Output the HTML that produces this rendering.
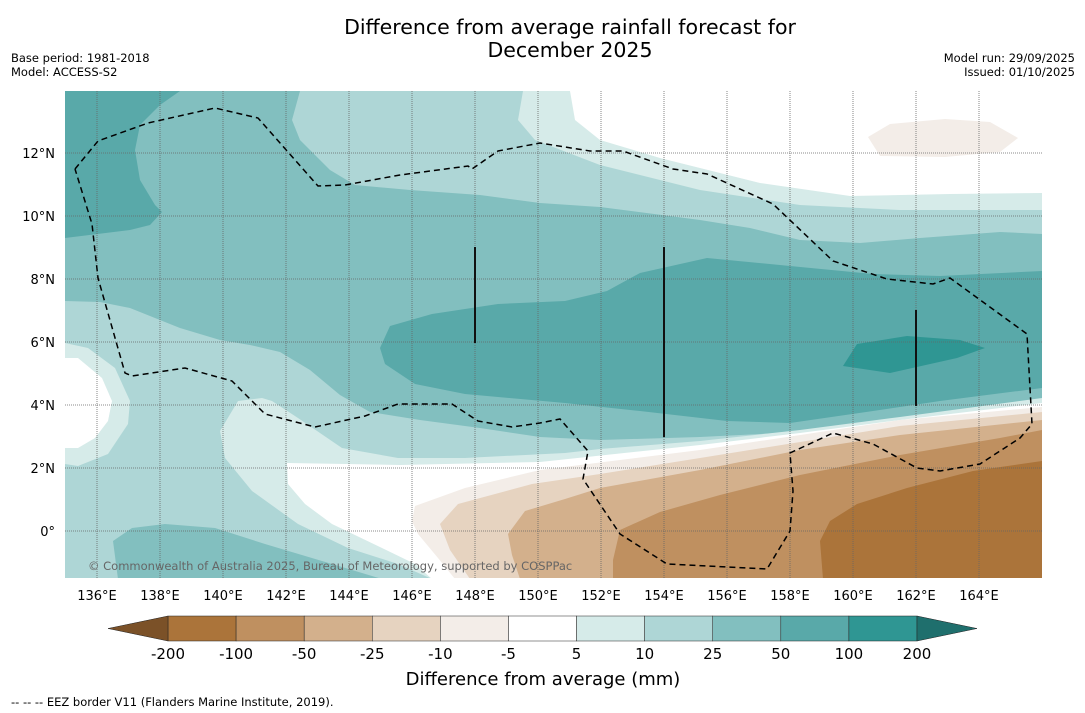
<!DOCTYPE html>
<html><head><meta charset="utf-8"><style>
body{margin:0;background:#fff;width:1085px;height:713px;overflow:hidden;font-family:"Liberation Sans","DejaVu Sans",sans-serif}
svg{display:block}
</style></head><body>
<svg id="s" width="1085" height="713" xmlns="http://www.w3.org/2000/svg" font-family="DejaVu Sans, Liberation Sans, sans-serif">
<text x="570" y="34" font-size="20.5" text-anchor="middle">Difference from average rainfall forecast for</text>
<text x="570" y="57" font-size="20.5" text-anchor="middle">December 2025</text>
<text x="11" y="62" font-size="11.5">Base period: 1981-2018</text>
<text x="11" y="76" font-size="11.5">Model: ACCESS-S2</text>
<text x="1075" y="62" font-size="11.5" text-anchor="end">Model run: 29/09/2025</text>
<text x="1075" y="76" font-size="11.5" text-anchor="end">Issued: 01/10/2025</text>
<defs><clipPath id="mc"><rect x="65" y="91" width="977" height="487"/></clipPath></defs>
<g clip-path="url(#mc)">
<rect x="65" y="91" width="977" height="487" fill="#aed6d6"/>
<path fill="#d6ebe9" d="M523,91 L518,120 L535,140 L600,165 L700,190 L800,205 L900,210 L1042,210 L1042,91 Z"/>
<path fill="#ffffff" d="M570,91 L575,120 L600,140 L660,158 L760,183 L850,196 L950,194 L1042,193 L1042,91 Z"/>
<path fill="#f3ede8" d="M868,137 L890,124 L945,119 L990,122 L1018,138 L1000,152 L945,157 L880,156 Z"/>
<path fill="#82bfbf" d="M65,91 L300,91 L292,120 L300,140 L330,170 L355,185 L410,190 L480,195 L540,203 L600,207 L700,220 L750,228 L800,240 L860,243 L920,238 L1000,232 L1042,234 L1042,410 L1000,415 L900,425 L800,432 L700,437 L600,440 L540,437 L480,428 L420,420 L370,412 L340,395 L310,370 L280,352 L250,345 L220,340 L180,328 L130,308 L100,302 L65,301 Z"/>
<path fill="#59a9a9" d="M65,91 L180,91 L160,105 L140,125 L135,150 L140,180 L155,205 L162,212 L150,225 L130,230 L65,238 Z"/>
<path fill="#59a9a9" d="M380,348 L390,326 L432,314 L498,304 L565,301 L607,291 L640,273 L707,258 L790,266 L873,274 L940,276 L1042,271 L1042,388 L940,401 L873,411 L790,423 L727,421 L640,411 L565,403 L465,394 L415,384 L385,364 Z"/>
<path fill="#2f9693" d="M843,366 L857,344 L907,336 L960,340 L985,348 L957,358 L890,373 Z"/>
<path fill="#d6ebe9" d="M65,343 L88,348 L115,368 L130,401 L128,424 L108,454 L78,466 L65,464 Z"/>
<path fill="#ffffff" d="M65,358 L78,358 L102,378 L112,401 L108,421 L95,438 L78,448 L65,448 Z"/>
<path fill="#82bfbf" d="M113,541 L132,528 L165,524 L215,528 L265,544 L332,564 L382,579 L118,579 Z"/>
<path fill="#d6ebe9" d="M262,398 L238,401 L220,431 L225,458 L252,491 L298,524 L348,548 L398,564 L432,579 L1042,579 L1042,398 L900,417 L800,430 L700,441 L600,449 L565,453 L465,458 L398,458 L342,448 L298,418 L272,401 Z"/>
<path fill="#ffffff" d="M287,463 L288,484 L305,504 L332,524 L382,548 L415,564 L432,579 L1042,579 L1042,403 L900,420 L800,433 L700,445 L540,462 L400,465 Z"/>
<path fill="#f3ede8" d="M412,521 L415,506 L465,488 L540,470 L700,450 L900,420 L1042,407 L1042,579 L455,579 L438,558 L418,534 Z"/>
<path fill="#e6d3c0" d="M440,524 L458,504 L532,484 L600,474 L700,458 L900,426 L1042,412 L1042,579 L470,579 L450,550 Z"/>
<path fill="#d3b08c" d="M508,534 L525,511 L565,499 L600,488 L700,470 L800,450 L900,435 L1042,420 L1042,579 L520,579 L512,555 Z"/>
<path fill="#bf9060" d="M613,560 L620,530 L660,512 L720,495 L800,475 L900,455 L1000,438 L1042,430 L1042,579 L613,579 Z"/>
<path fill="#ab743a" d="M823,579 L820,541 L830,521 L857,504 L907,488 L973,471 L1042,461 L1042,579 Z"/>
<g id="grid"></g>
<path fill="none" stroke="#000" stroke-width="1.5" stroke-dasharray="6,4" d="M75,169 L98,141 L148,123 L215,108 L258,118 L318,186 L345,185 L400,175 L468,166 L472,169 L498,151 L540,143 L590,151 L623,151 L673,169 L707,174 L773,204 L833,261 L887,279 L933,284 L950,278 L1027,334 L1032,424 L1020,438 L980,464 L940,471 L917,468 L873,444 L833,433 L790,453 L793,491 L790,531 L767,569 L667,564 L620,534 L583,479 L588,451 L560,419 L540,423 L512,427 L478,421 L452,404 L398,404 L365,416 L315,427 L265,414 L232,381 L185,368 L132,376 L125,373 L98,278 L92,224 L75,169"/>
<line x1="475" y1="247" x2="475" y2="343" stroke="#111" stroke-width="2"/>
<line x1="664" y1="247" x2="664" y2="437" stroke="#111" stroke-width="2"/>
<line x1="916" y1="310" x2="916" y2="406" stroke="#111" stroke-width="2"/>
<text x="88" y="570" font-size="11.5" fill="#666">© Commonwealth of Australia 2025, Bureau of Meteorology, supported by COSPPac</text>
</g>
<g id="ticks"></g>
<g id="cbar"></g>
<text x="543" y="685" font-size="18" text-anchor="middle">Difference from average (mm)</text>
<text x="11" y="706" font-size="11.5">--  --  -- EEZ border V11 (Flanders Marine Institute, 2019).</text>
</svg>
<script>
const lonTicks=[136,138,140,142,144,146,148,150,152,154,156,158,160,162,164];
const latTicks=[0,2,4,6,8,10,12];
const levels=[-200,-100,-50,-25,-10,-5,5,10,25,50,100,200];
const colors=['#ab743a','#bf9060','#d3b08c','#e6d3c0','#f3ede8','#ffffff','#d6ebe9','#aed6d6','#82bfbf','#59a9a9','#2f9693'];
const extColors=['#7b5128','#1f6f6d'];
const NS='http://www.w3.org/2000/svg';
const xLon=l=>65.5+(l-135)*31.5, yLat=l=>531-l*31.5;
function mk(t,a,p){const e=document.createElementNS(NS,t);for(const k in a)e.setAttribute(k,a[k]);p.appendChild(e);return e;}
const grid=document.getElementById('grid'),ticks=document.getElementById('ticks'),cb=document.getElementById('cbar');
lonTicks.forEach(l=>{const x=xLon(l);
 const g=mk('line',{x1:x,y1:91,x2:x,y2:578,stroke:'#666','stroke-width':0.8,'stroke-dasharray':'1,1'},grid);
 
 
 const t=mk('text',{x:x,y:600,'font-size':13,'text-anchor':'middle'},ticks);t.textContent=l+'°E';
 
 });
latTicks.forEach(l=>{const y=yLat(l);
 const g=mk('line',{x1:65,y1:y,x2:1042,y2:y,stroke:'#666','stroke-width':0.8,'stroke-dasharray':'1,1'},grid);
 
 
 const t=mk('text',{x:55,y:y+5,'font-size':13,'text-anchor':'end'},ticks);t.textContent=l===0?'0°':l+'°N';
 
 });
const cx0=168,cx1=917,cy=616,ch=25,w=(cx1-cx0)/(levels.length-1);
colors.forEach((c,i)=>{const r=mk('rect',{x:cx0+i*w,y:cy,width:w,height:ch,fill:c,stroke:'#222','stroke-width':0.5},cb);
 
 });
const tl=mk('polygon',{points:`${cx0},${cy} 108,${cy+ch/2} ${cx0},${cy+ch}`,fill:extColors[0],stroke:'#222','stroke-width':0.5},cb);


const tr=mk('polygon',{points:`${cx1},${cy} 977,${cy+ch/2} ${cx1},${cy+ch}`,fill:extColors[1],stroke:'#222','stroke-width':0.5},cb);


levels.forEach((v,i)=>{const t=mk('text',{x:cx0+i*w,y:659,'font-size':15,'text-anchor':'middle'},cb);t.textContent=v;
 
 });
</script>
</body></html>
